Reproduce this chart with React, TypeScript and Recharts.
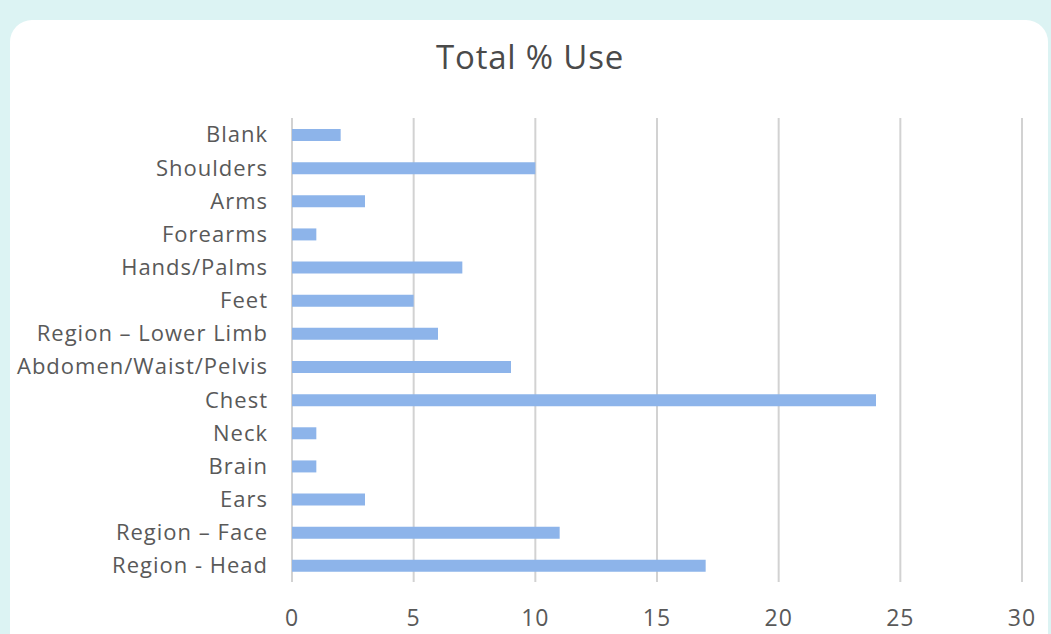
import { BarChart, Bar, XAxis, YAxis, CartesianGrid } from "recharts";

const categories = [
  "Blank",
  "Shoulders",
  "Arms",
  "Forearms",
  "Hands/Palms",
  "Feet",
  "Region – Lower Limb",
  "Abdomen/Waist/Pelvis",
  "Chest",
  "Neck",
  "Brain",
  "Ears",
  "Region – Face",
  "Region - Head",
];

const totalUse = [2, 10, 3, 1, 7, 5, 6, 9, 24, 1, 1, 3, 11, 17];

const xTicks = [0, 5, 10, 15, 20, 25, 30];

const data = categories.map((name, i) => ({ name, value: totalUse[i] }));

const font = "'Open Sans', 'Noto Sans', sans-serif";
const labelColor = "#595959";

export default function App() {
  return (
    <div
      style={{
        position: "fixed",
        left: 0,
        top: 0,
        width: 1051,
        height: 634,
        background: "#dcf3f3",
        overflow: "hidden",
        fontFamily: font,
      }}
    >
      <div
        style={{
          position: "absolute",
          left: 10,
          top: 20,
          width: 1038,
          height: 640,
          background: "#ffffff",
          borderRadius: 22,
        }}
      />
      <div
        style={{
          position: "absolute",
          left: 330,
          top: 34,
          width: 400,
          textAlign: "center",
          fontSize: 33,
          letterSpacing: 0.8,
          color: "#4a4a4a",
          lineHeight: "46px",
        }}
      >
        Total % Use
      </div>
      <div style={{ position: "absolute", left: 0, top: 0 }}>
        <BarChart
          width={1051}
          height={634}
          data={data}
          layout="vertical"
          margin={{ top: 118, right: 29, bottom: 12, left: 12 }}
        >
          <CartesianGrid horizontal={false} stroke="#d2d2d2" strokeWidth={2} />
          <XAxis
            type="number"
            domain={[0, 30]}
            ticks={xTicks}
            interval={0}
            height={40}
            axisLine={false}
            tickLine={false}
            tickSize={0}
            tickMargin={28}
            tick={{ fill: labelColor, fontSize: 23, letterSpacing: 1, fontFamily: font }}
          />
          <YAxis
            type="category"
            dataKey="name"
            width={280}
            axisLine={false}
            tickLine={false}
            tickSize={0}
            tickMargin={24}
            interval={0}
            tick={{ fill: labelColor, fontSize: 22, letterSpacing: 1, fontFamily: font }}
          />
          <Bar dataKey="value" fill="#8db4ea" barSize={12} isAnimationActive={false} />
        </BarChart>
      </div>
    </div>
  );
}
